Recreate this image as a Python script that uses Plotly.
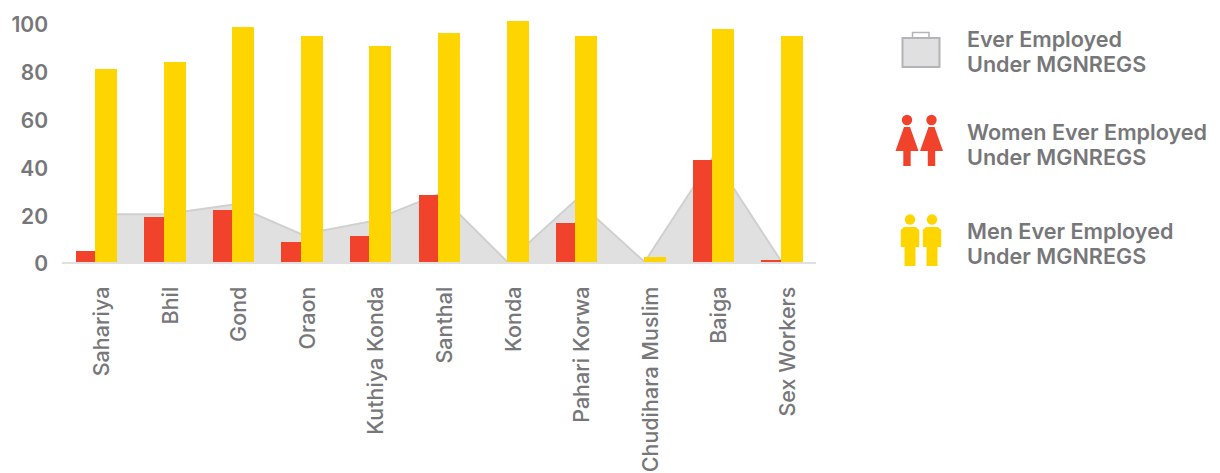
import plotly.graph_objects as go

categories = ["Sahariya", "Bhil", "Gond", "Oraon", "Kuthiya Konda", "Santhal", "Konda",
              "Pahari Korwa", "Chudihara Muslim", "Baiga", "Sex Workers"]
ever_employed = [20, 20, 24, 11.5, 17, 28.5, 0, 26, 0, 44, 0]
women_employed = [4.5, 18.7, 21.7, 8.3, 10.8, 28, 0, 16.3, 0, 42.8, 1]
men_employed = [80.8, 83.7, 98.3, 94.6, 90.4, 95.8, 100.8, 94.6, 2, 97.5, 94.6]
y_ticks = [0, 20, 40, 60, 80, 100]
legend_lines = ["Ever Employed", "Under MGNREGS", "Women Ever Employed", "Under MGNREGS",
                "Men Ever Employed", "Under MGNREGS"]
legend_y = [39, 64, 132, 157, 231, 256]

GREY_TEXT = "#77777a"
UNIT = 68.6
positions = list(range(len(categories)))

fig = go.Figure()
fig.add_trace(go.Scatter(x=positions, y=ever_employed, mode="lines", fill="tozeroy",
                         fillcolor="#e0e0e0", line=dict(color="#d0d0d0", width=2),
                         hoverinfo="skip", showlegend=False))
fig.add_trace(go.Bar(x=positions, y=women_employed, yaxis="y2", width=19.5 / UNIT, offset=-20.5 / UNIT,
                     marker=dict(color="#f1432b", line=dict(width=0)), showlegend=False))
fig.add_trace(go.Bar(x=positions, y=men_employed, yaxis="y2", width=22 / UNIT, offset=-1 / UNIT,
                     marker=dict(color="#ffd500", line=dict(width=0)), showlegend=False))

shapes = []
def rect(x0, y0, x1, y1, fill, line=None, lw=0):
    shapes.append(dict(type="rect", xref="paper", yref="paper", x0=(x0 - 62) / 754, x1=(x1 - 62) / 754,
                       y0=(262 - y1) / 251, y1=(262 - y0) / 251, fillcolor=fill,
                       line=dict(color=line or fill, width=lw)))
def circ(cx, cy, r, fill):
    shapes.append(dict(type="circle", xref="paper", yref="paper", x0=(cx - r - 62) / 754, x1=(cx + r - 62) / 754,
                       y0=(262 - cy - r) / 251, y1=(262 - cy + r) / 251, fillcolor=fill, line=dict(width=0)))
def poly(pts, fill):
    p = "M" + " L".join(f"{(x - 62) / 754},{(262 - y) / 251}" for x, y in pts) + " Z"
    shapes.append(dict(type="path", xref="paper", yref="paper", path=p, fillcolor=fill, line=dict(width=0)))

# briefcase icon
rect(912.5, 32.5, 929, 38, "rgba(0,0,0,0)", "#b4b4b8", 1.5)
rect(902.5, 38, 939.5, 67, "#e0e0e0", "#b4b4b8", 2)
# women icons
RED = "#f1432b"
for cx in (907, 931.5):
    circ(cx, 120, 5.2, RED)
    poly([(cx - 3, 127), (cx + 3, 127), (cx + 11.5, 151), (cx + 3.7, 151), (cx + 3.7, 166),
          (cx - 3.7, 166), (cx - 3.7, 151), (cx - 11.5, 151)], RED)
# men icons
YEL = "#ffd500"
for cx in (910, 932):
    circ(cx, 219.5, 5.2, YEL)
    poly([(cx - 6, 227), (cx + 6, 227), (cx + 9.2, 230), (cx + 9.2, 247), (cx + 5.5, 247), (cx + 5.5, 266),
          (cx - 5.5, 266), (cx - 5.5, 247), (cx - 9.2, 247), (cx - 9.2, 230)], YEL)

annotations = [dict(text=t, xref="paper", yref="paper", x=(965 - 62) / 754, y=(262 - y) / 251,
                    xanchor="left", yanchor="middle", align="left", showarrow=False,
                    font=dict(family="Inter", size=21.6, color=GREY_TEXT, weight=600))
               for t, y in zip(legend_lines, legend_y)]

fig.update_layout(
    width=1220, height=473, margin=dict(l=62, r=404, t=11, b=211, autoexpand=False),
    paper_bgcolor="white", plot_bgcolor="white", barmode="overlay", bargap=0,
    shapes=shapes, annotations=annotations, showlegend=False,
    xaxis=dict(range=[-0.5, 10.5], tickmode="array", tickvals=positions, ticktext=categories,
               tickangle=-90, showgrid=False, zeroline=False, showline=True, linecolor="#e0e0e0", linewidth=2,
               ticks="", ticklen=0, ticklabelstandoff=14, ticklabelshift=6, automargin=False,
               tickfont=dict(family="Inter", size=21.5, color=GREY_TEXT, weight=500)),
    yaxis=dict(range=[0, 105], tickmode="array", tickvals=y_ticks, showgrid=False, zeroline=False,
               showline=False, ticks="", ticklabelstandoff=13, ticklabelshift=2, automargin=False,
               tickfont=dict(family="Inter", size=21, color=GREY_TEXT, weight=600)),
    yaxis2=dict(range=[0, 105], overlaying="y", side="left", showticklabels=False, showgrid=False,
                zeroline=False, showline=False, ticks=""),
)
fig.write_html("out.html", config=dict(displayModeBar=False),
               post_script="document.body.style.margin='0';")
